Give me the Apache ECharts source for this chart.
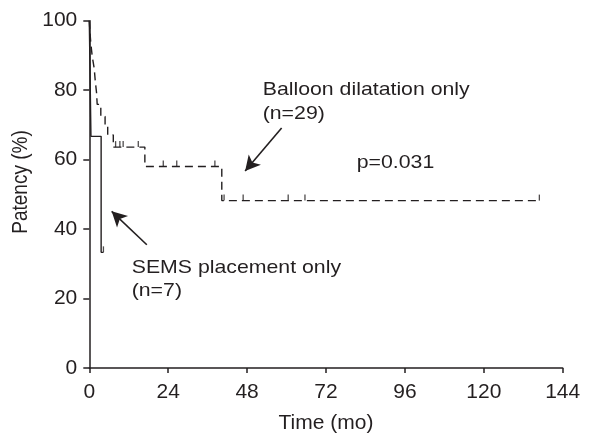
<!DOCTYPE html>
<html>
<head>
<meta charset="utf-8">
<script src="https://cdn.jsdelivr.net/npm/echarts@6/dist/echarts.min.js"></script>
<style>
html,body{margin:0;padding:0;background:#fff;}
#c{width:608px;height:439px;}
</style>
</head>
<body>
<div id="c"></div>
<script>
// ---- data (months, patency %) ----
var xTicks = [0, 24, 48, 72, 96, 120, 144];
var yTicks = [0, 20, 40, 60, 80, 100];
var balloonSteps = [[0,100],[0.2,96.6],[0.5,93.1],[0.9,89.7],[1.5,86.2],[1.8,82.8],[2.2,79.3],[2.4,75.9],[3.5,72.4],[4.8,70.0],[5.6,67.1],[7.3,63.6],[16.9,58.0],[40.3,48.2],[136.9,48.2]];
var balloonCensored = [[8.0,63.6],[9.3,63.6],[10.3,63.6],[14.9,63.6],[22.5,58.0],[26.6,58.0],[38.2,58.0],[41.0,48.2],[46.8,48.2],[60.5,48.2],[65.6,48.2],[136.9,48.2]];
var semsSteps = [[0,100],[0.5,66.7],[3.6,33.3],[4.3,33.3]];
var semsCensored = [[4.3,33.3]];
var balloonArrow = [[58.5,69.1],[47.4,56.7]];
var semsArrow = [[17.5,35.5],[6.8,45.1]];

var INK = '#231f20';
var FONT = 'Liberation Sans, Arial, sans-serif';
var AFS = 21;
var FS = 19;
var SX = 1.12;

var chart = echarts.init(document.getElementById('c'));
chart.setOption({
  animation: false,
  backgroundColor: '#fff',
  grid: {left: 89.3, right: 45.3, top: 20.7, bottom: 68},
  xAxis: {
    type: 'value', min: xTicks[0], max: xTicks[xTicks.length-1], interval: 24,
    name: 'Time (mo)', nameLocation: 'middle', nameGap: 45,
    nameTextStyle: {color: INK, fontSize: AFS, fontFamily: FONT},
    axisLine: {lineStyle: {color: INK, width: 1.5}},
    axisTick: {show: true, inside: false, length: 5, lineStyle: {color: INK, width: 1.5}},
    axisLabel: {color: INK, fontSize: AFS, fontFamily: FONT, margin: 14},
    splitLine: {show: false}
  },
  yAxis: {
    type: 'value', min: yTicks[0], max: yTicks[yTicks.length-1], interval: 20,
    axisLine: {show: true, lineStyle: {color: INK, width: 1.5}},
    axisTick: {show: true, inside: false, length: 6, lineStyle: {color: INK, width: 1.5}},
    axisLabel: {color: INK, fontSize: AFS, fontFamily: FONT, margin: 12},
    splitLine: {show: false}
  },
  series: [
    {
      name: 'Balloon dilatation only', type: 'line', step: 'end', data: balloonSteps,
      symbol: 'none', lineStyle: {color: INK, width: 1.4, type: [8, 5]},
      markLine: {
        silent: true, symbol: ['none', 'arrow'], symbolSize: [12, 15],
        label: {show: false},
        lineStyle: {color: INK, width: 1.6, type: 'solid'},
        data: [[{coord: balloonArrow[0]}, {coord: balloonArrow[1]}]]
      }
    },
    {
      name: 'SEMS placement only', type: 'line', step: 'end', data: semsSteps,
      symbol: 'none', lineStyle: {color: INK, width: 1.4},
      markLine: {
        silent: true, symbol: ['none', 'arrow'], symbolSize: [12, 15],
        label: {show: false},
        lineStyle: {color: INK, width: 1.6, type: 'solid'},
        data: [[{coord: semsArrow[0]}, {coord: semsArrow[1]}]]
      }
    },
    {
      type: 'scatter', data: balloonCensored, symbol: 'rect', symbolSize: [1.3, 6],
      symbolOffset: [0, -3], itemStyle: {color: INK}
    },
    {
      type: 'scatter', data: semsCensored, symbol: 'rect', symbolSize: [1.3, 6],
      symbolOffset: [0, -3], itemStyle: {color: INK}
    }
  ],
  graphic: [
    {type: 'text', x: 21, y: 182, rotation: Math.PI/2, scaleY: SX, style: {text: 'Patency (%)', fill: INK, font: FS + 'px ' + FONT, textAlign: 'center', textVerticalAlign: 'middle'}},
    {type: 'text', x: 262.7, y: 90, scaleX: SX, style: {text: 'Balloon dilatation only', fill: INK, font: FS + 'px ' + FONT, textAlign: 'left', textVerticalAlign: 'middle'}},
    {type: 'text', x: 262.7, y: 114, scaleX: SX, style: {text: '(n=29)', fill: INK, font: FS + 'px ' + FONT, textAlign: 'left', textVerticalAlign: 'middle'}},
    {type: 'text', x: 356.7, y: 162.5, scaleX: SX, style: {text: 'p=0.031', fill: INK, font: FS + 'px ' + FONT, textAlign: 'left', textVerticalAlign: 'middle'}},
    {type: 'text', x: 131.7, y: 268, scaleX: SX, style: {text: 'SEMS placement only', fill: INK, font: FS + 'px ' + FONT, textAlign: 'left', textVerticalAlign: 'middle'}},
    {type: 'text', x: 131.7, y: 291, scaleX: SX, style: {text: '(n=7)', fill: INK, font: FS + 'px ' + FONT, textAlign: 'left', textVerticalAlign: 'middle'}}
  ]
});
</script>
</body>
</html>
